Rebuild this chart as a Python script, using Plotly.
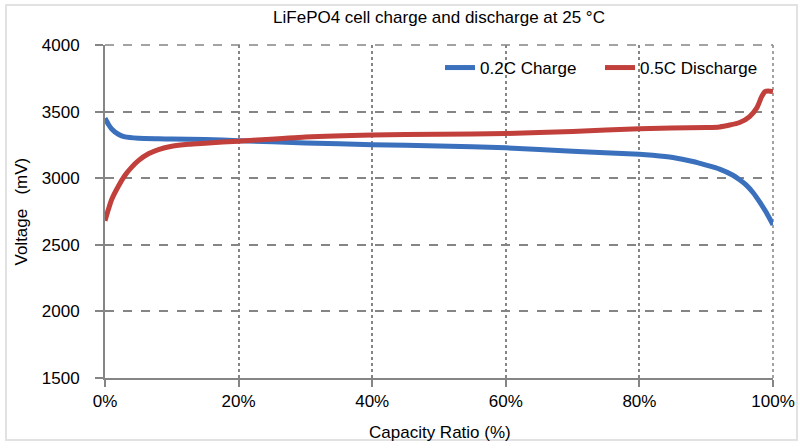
import plotly.graph_objects as go

# Capacity ratio (%) and voltage (mV)
charge_x = [0, 0.5, 1, 2, 3, 5, 8, 10, 15, 20, 30, 40, 50, 60, 70, 80, 82, 85, 88, 90, 92, 94, 95, 96, 97, 98, 99, 100]
charge_y = [3450, 3405, 3370, 3330, 3310, 3300, 3296, 3294, 3290, 3282, 3265, 3252, 3242, 3228, 3202, 3180, 3172, 3155, 3125, 3098, 3068, 3022, 2988, 2948, 2893, 2822, 2742, 2650]

discharge_x = [0, 0.5, 1, 2, 3, 4, 5, 6.5, 8, 10, 12.5, 15, 20, 30, 40, 50, 60, 70, 80, 90, 92, 95, 96.5, 97.6, 98.3, 98.8, 99.3, 100]
discharge_y = [2680, 2765, 2840, 2940, 3022, 3083, 3132, 3183, 3215, 3240, 3255, 3263, 3278, 3310, 3325, 3330, 3336, 3350, 3372, 3380, 3385, 3418, 3463, 3530, 3612, 3650, 3655, 3650]

x_ticks = [0, 20, 40, 60, 80, 100]
x_labels = ["0%", "20%", "40%", "60%", "80%", "100%"]
y_ticks = [1500, 2000, 2500, 3000, 3500, 4000]

FONT = "Liberation Sans, Arial, Helvetica, sans-serif"
GRID = "#858585"

L, R, T, B = 105, 27, 45, 70
PW, PH = 800 - L - R, 448 - T - B

fig = go.Figure()
fig.add_trace(go.Scatter(x=charge_x, y=charge_y, mode="lines", name="0.2C Charge",
                         line=dict(color="#3b70bd", width=5, shape="spline", smoothing=0.6)))
fig.add_trace(go.Scatter(x=discharge_x, y=discharge_y, mode="lines", name="0.5C Discharge",
                         line=dict(color="#c2403b", width=5, shape="spline", smoothing=0.6)))

fig.update_layout(
    width=800, height=448,
    margin=dict(l=L, r=R, t=T, b=B, autoexpand=False),
    paper_bgcolor="white", plot_bgcolor="white",
    font=dict(family=FONT, size=17, color="black"),
    title=dict(text="LiFePO4 cell charge and discharge at 25 °C", x=0.5, xref="paper",
               xanchor="center", y=1 - 17 / 448, yanchor="middle", font=dict(size=17, color="black")),
    legend=dict(orientation="h", x=(440 - L) / PW, xanchor="left", y=(448 - B - 68) / PH, yanchor="middle",
                bgcolor="rgba(0,0,0,0)", font=dict(size=17), itemwidth=30, entrywidth=115,
                traceorder="normal"),
    showlegend=True,
)

fig.update_xaxes(
    range=[0, 100], tickvals=x_ticks, ticktext=x_labels,
    showgrid=True, gridcolor=GRID, griddash="dot", gridwidth=1.5,
    showline=True, linecolor=GRID, linewidth=2,
    ticks="outside", ticklen=7, tickcolor=GRID, tickwidth=2,
    zeroline=False, automargin=False, tickfont=dict(size=17),
)
fig.update_yaxes(
    range=[1500, 4000], tickvals=y_ticks,
    showgrid=True, gridcolor=GRID, griddash="dash", gridwidth=1.5,
    showline=True, linecolor=GRID, linewidth=2,
    ticks="outside", ticklen=8, tickcolor=GRID, tickwidth=2,
    ticklabelstandoff=12,
    zeroline=False, automargin=False, tickfont=dict(size=17),
)

# axis titles
fig.add_annotation(text="Capacity Ratio (%)", xref="paper", yref="paper",
                   x=(440 - L) / PW, y=(448 - B - 432) / PH, xanchor="center", yanchor="middle",
                   showarrow=False, font=dict(size=17))
fig.add_annotation(text="Voltage\u00a0\u00a0\u00a0(mV)", xref="paper", yref="paper",
                   x=(21 - L) / PW, y=0.5, xanchor="center", yanchor="middle", textangle=-90,
                   showarrow=False, font=dict(size=17))

# edge gridlines (top dashed, right dotted)
fig.add_shape(type="line", xref="paper", yref="paper", x0=0, x1=1, y0=1, y1=1,
              line=dict(color=GRID, width=1.5, dash="dash"), layer="below")
fig.add_shape(type="line", xref="paper", yref="paper", x0=1, x1=1, y0=0, y1=1,
              line=dict(color=GRID, width=1.5, dash="dot"), layer="below")

# faint outer frame
fig.add_shape(type="rect", xref="paper", yref="paper",
              x0=(6 - L) / PW, x1=(797 - L) / PW,
              y0=(448 - B - 440) / PH, y1=(448 - B - 5) / PH,
              line=dict(color="#e2e2e2", width=2), layer="below")

fig.write_html("out.html", config={"displayModeBar": False},
               post_script="document.body.style.margin='0';document.body.style.overflow='hidden';")
